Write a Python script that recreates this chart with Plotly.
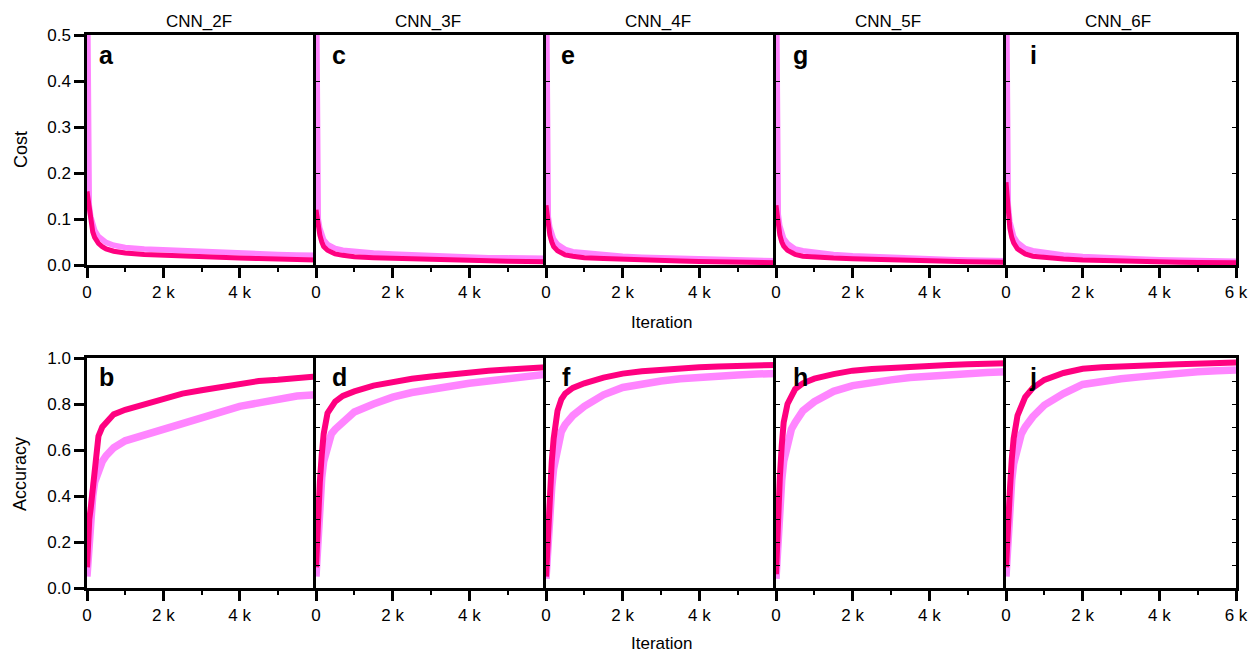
import plotly.graph_objects as go

# ---------------- data ----------------
iterations = [0, 30, 60, 100, 150, 200, 300, 400, 500, 700, 1000, 1500, 2000,
              2500, 3000, 3500, 4000, 4500, 5000, 5500, 6000]

models = ["CNN_2F", "CNN_3F", "CNN_4F", "CNN_5F", "CNN_6F"]
cost_letters = ["a", "c", "e", "g", "i"]
acc_letters = ["b", "d", "f", "h", "j"]

# cost, dark series
cost_dark_2F = [0.16, 0.14, 0.115, 0.09, 0.072, 0.06, 0.047, 0.04, 0.035, 0.030, 0.026, 0.023, 0.021, 0.019, 0.017, 0.016, 0.015, 0.014, 0.013, 0.012, 0.011]
cost_dark_3F = [0.12, 0.10, 0.08, 0.065, 0.05, 0.04, 0.032, 0.027, 0.024, 0.021, 0.018, 0.016, 0.0145, 0.013, 0.012, 0.011, 0.0095, 0.0088, 0.008, 0.0075, 0.007]
cost_dark_4F = [0.13, 0.11, 0.085, 0.065, 0.05, 0.04, 0.031, 0.026, 0.022, 0.019, 0.016, 0.014, 0.012, 0.011, 0.0095, 0.0085, 0.0075, 0.0068, 0.006, 0.0055, 0.005]
cost_dark_5F = [0.13, 0.11, 0.085, 0.065, 0.05, 0.041, 0.032, 0.027, 0.023, 0.019, 0.017, 0.015, 0.0135, 0.012, 0.011, 0.0098, 0.009, 0.008, 0.0072, 0.0066, 0.006]
cost_dark_6F = [0.18, 0.15, 0.11, 0.08, 0.06, 0.048, 0.035, 0.028, 0.024, 0.019, 0.016, 0.013, 0.011, 0.0095, 0.0085, 0.0075, 0.0068, 0.006, 0.0055, 0.0052, 0.005]

# cost, light series
cost_light_2F = [0.75, 0.17, 0.13, 0.105, 0.088, 0.076, 0.062, 0.054, 0.049, 0.043, 0.038, 0.035, 0.033, 0.031, 0.029, 0.027, 0.025, 0.024, 0.023, 0.022, 0.021]
cost_light_3F = [0.75, 0.13, 0.10, 0.08, 0.065, 0.055, 0.045, 0.040, 0.036, 0.032, 0.029, 0.026, 0.024, 0.022, 0.020, 0.019, 0.017, 0.016, 0.0155, 0.015, 0.0145]
cost_light_4F = [0.75, 0.14, 0.105, 0.082, 0.066, 0.056, 0.045, 0.038, 0.034, 0.029, 0.026, 0.022, 0.019, 0.017, 0.0155, 0.014, 0.0125, 0.0115, 0.0105, 0.0095, 0.009]
cost_light_5F = [0.75, 0.15, 0.11, 0.085, 0.068, 0.058, 0.047, 0.040, 0.035, 0.031, 0.027, 0.023, 0.020, 0.018, 0.016, 0.0148, 0.0135, 0.0122, 0.011, 0.010, 0.0095]
cost_light_6F = [0.75, 0.19, 0.13, 0.095, 0.075, 0.062, 0.049, 0.041, 0.036, 0.031, 0.027, 0.022, 0.0185, 0.016, 0.0145, 0.013, 0.0115, 0.0105, 0.0095, 0.0088, 0.008]

# accuracy, dark series
acc_dark_2F = [0.09, 0.22, 0.30, 0.35, 0.42, 0.52, 0.66, 0.70, 0.72, 0.755, 0.775, 0.80, 0.825, 0.845, 0.86, 0.875, 0.89, 0.90, 0.905, 0.915, 0.92]
acc_dark_3F = [0.09, 0.25, 0.37, 0.46, 0.58, 0.67, 0.76, 0.79, 0.81, 0.835, 0.855, 0.88, 0.897, 0.91, 0.92, 0.93, 0.94, 0.945, 0.95, 0.955, 0.96]
acc_dark_4F = [0.05, 0.18, 0.30, 0.40, 0.55, 0.65, 0.77, 0.82, 0.845, 0.87, 0.89, 0.915, 0.932, 0.942, 0.95, 0.955, 0.96, 0.963, 0.966, 0.968, 0.97]
acc_dark_5F = [0.06, 0.22, 0.36, 0.48, 0.62, 0.72, 0.80, 0.84, 0.865, 0.89, 0.91, 0.93, 0.945, 0.952, 0.958, 0.963, 0.967, 0.97, 0.973, 0.975, 0.977]
acc_dark_6F = [0.09, 0.22, 0.33, 0.42, 0.56, 0.65, 0.75, 0.80, 0.83, 0.87, 0.905, 0.935, 0.953, 0.96, 0.965, 0.968, 0.97, 0.973, 0.975, 0.978, 0.98]

# accuracy, light series
acc_light_2F = [0.05, 0.15, 0.25, 0.33, 0.40, 0.46, 0.52, 0.55, 0.575, 0.61, 0.64, 0.665, 0.695, 0.72, 0.745, 0.77, 0.79, 0.805, 0.82, 0.835, 0.84]
acc_light_3F = [0.05, 0.17, 0.28, 0.38, 0.48, 0.55, 0.63, 0.67, 0.69, 0.72, 0.765, 0.80, 0.83, 0.85, 0.865, 0.878, 0.89, 0.90, 0.91, 0.92, 0.93]
acc_light_4F = [0.04, 0.14, 0.25, 0.33, 0.44, 0.52, 0.62, 0.68, 0.71, 0.75, 0.79, 0.84, 0.872, 0.89, 0.90, 0.91, 0.918, 0.922, 0.926, 0.93, 0.933]
acc_light_5F = [0.04, 0.15, 0.26, 0.36, 0.47, 0.55, 0.64, 0.69, 0.72, 0.77, 0.81, 0.855, 0.88, 0.895, 0.905, 0.915, 0.922, 0.928, 0.933, 0.937, 0.94]
acc_light_6F = [0.05, 0.16, 0.28, 0.38, 0.47, 0.54, 0.62, 0.67, 0.70, 0.745, 0.795, 0.845, 0.885, 0.90, 0.91, 0.918, 0.928, 0.935, 0.94, 0.945, 0.948]

cost_dark = [cost_dark_2F, cost_dark_3F, cost_dark_4F, cost_dark_5F, cost_dark_6F]
cost_light = [cost_light_2F, cost_light_3F, cost_light_4F, cost_light_5F, cost_light_6F]
acc_dark = [acc_dark_2F, acc_dark_3F, acc_dark_4F, acc_dark_5F, acc_dark_6F]
acc_light = [acc_light_2F, acc_light_3F, acc_light_4F, acc_light_5F, acc_light_6F]

x_tick_vals = [0, 2000, 4000, 6000]
x_tick_text = ["0", "2 k", "4 k", "6 k"]
x_minor_vals = [1000, 3000, 5000]
cost_ticks = [0.0, 0.1, 0.2, 0.3, 0.4, 0.5]
acc_ticks = [0.0, 0.2, 0.4, 0.6, 0.8, 1.0]
cost_small_ticks = [0.1, 0.2, 0.3, 0.4]
acc_small_ticks = [0.1, 0.2, 0.3, 0.4, 0.5, 0.6, 0.7, 0.8, 0.9]

# ---------------- styling / layout ----------------
W, H = 1250, 652
DARK = "#FF0080"
LIGHT = "#FF85FF"
FONT = "Liberation Sans, Arial, Helvetica, sans-serif"

col_px = [(87, 316), (316, 546), (546, 776), (776, 1006), (1006, 1236)]
row_px = {"top": (35, 265), "bot": (358, 588)}


def px_x(p):
    return p / W


def px_y(p):
    return (H - p) / H


fig = go.Figure()
layout = dict(
    width=W, height=H,
    margin=dict(l=0, r=0, t=0, b=0, autoexpand=False),
    paper_bgcolor="white", plot_bgcolor="white",
    showlegend=False,
    font=dict(family=FONT, size=17, color="black"),
)
annotations = []

idx = 0
for r, row in enumerate(["top", "bot"]):
    y0, y1 = row_px[row]
    for c in range(5):
        idx += 1
        xa = "x" if idx == 1 else f"x{idx}"
        ya = "y" if idx == 1 else f"y{idx}"
        if row == "top":
            series = [(cost_light[c], LIGHT, 5.5), (cost_dark[c], DARK, 5)]
        else:
            series = [(acc_light[c], LIGHT, 7.5), (acc_dark[c], DARK, 6)]
        for vals, col, lw in series:
            fig.add_trace(go.Scatter(x=iterations, y=vals, mode="lines",
                                     line=dict(color=col, width=lw),
                                     xaxis=xa, yaxis=ya, hoverinfo="skip"))
        nt = 4 if c == 4 else 3
        xkey = "xaxis" if idx == 1 else f"xaxis{idx}"
        ykey = "yaxis" if idx == 1 else f"yaxis{idx}"
        layout[xkey] = dict(
            domain=[px_x(col_px[c][0]), px_x(col_px[c][1])],
            anchor=ya, range=[0, 6000],
            showgrid=False, zeroline=False,
            showline=True, linecolor="black", linewidth=2.5, mirror=True,
            ticks="outside", ticklen=10, tickwidth=2.5, tickcolor="black",
            tickmode="array", tickvals=x_tick_vals[:nt], ticktext=x_tick_text[:nt],
            tickfont=dict(family=FONT, size=17),
            minor=dict(tickmode="array", tickvals=x_minor_vals, ticks="outside",
                       ticklen=4, tickwidth=1.5, tickcolor="black"),
        )
        yrange = [0, 0.5] if row == "top" else [0, 1.0]
        last = (c == 4)
        if c == 0:
            ytv = cost_ticks if row == "top" else acc_ticks
            layout[ykey] = dict(
                domain=[px_y(y1), px_y(y0)], anchor=xa, range=yrange,
                showgrid=False, zeroline=False,
                showline=True, linecolor="black", linewidth=2.5, mirror=False,
                ticks="outside", ticklen=10, tickwidth=2.5, tickcolor="black",
                tickmode="array", tickvals=ytv,
                ticktext=[f"{v:.1f}" for v in ytv],
                tickfont=dict(family=FONT, size=17),
            )
        else:
            stv = cost_small_ticks if row == "top" else acc_small_ticks
            layout[ykey] = dict(
                domain=[px_y(y1), px_y(y0)], anchor=xa, range=yrange,
                showgrid=False, zeroline=False,
                showline=True, linecolor="black", linewidth=2.5,
                mirror="allticks" if last else False,
                ticks="inside", ticklen=4, tickwidth=1.2, tickcolor="black",
                tickmode="array", tickvals=stv, showticklabels=False,
            )

# panel letters
top_letter_x = [106, 339, 568, 800, 1033]
bot_letter_x = [106, 339, 566, 800, 1033]
for c in range(5):
    annotations.append(dict(text=f"<b>{cost_letters[c]}</b>", x=px_x(top_letter_x[c]),
                            y=px_y(55), xref="paper", yref="paper", showarrow=False,
                            xanchor="center", yanchor="middle",
                            font=dict(family=FONT, size=25, color="black")))
    annotations.append(dict(text=f"<b>{acc_letters[c]}</b>", x=px_x(bot_letter_x[c]),
                            y=px_y(377), xref="paper", yref="paper", showarrow=False,
                            xanchor="center", yanchor="middle",
                            font=dict(family=FONT, size=25, color="black")))
    cx = (col_px[c][0] + col_px[c][1]) / 2
    annotations.append(dict(text=models[c], x=px_x(cx - 3), y=px_y(21), xref="paper",
                            yref="paper", showarrow=False, xanchor="center",
                            yanchor="middle", font=dict(family=FONT, size=17)))

annotations.append(dict(text="Cost", x=px_x(21), y=px_y(150), xref="paper", yref="paper",
                        showarrow=False, textangle=-90, xanchor="center", yanchor="middle",
                        font=dict(family=FONT, size=18)))
annotations.append(dict(text="Accuracy", x=px_x(20), y=px_y(474), xref="paper", yref="paper",
                        showarrow=False, textangle=-90, xanchor="center", yanchor="middle",
                        font=dict(family=FONT, size=18)))
for yy in (322, 643):
    annotations.append(dict(text="Iteration", x=px_x(661.5), y=px_y(yy), xref="paper",
                            yref="paper", showarrow=False, xanchor="center",
                            yanchor="middle", font=dict(family=FONT, size=17)))

layout["annotations"] = annotations
fig.update_layout(**layout)
fig.write_html("out.html",
               config={"displayModeBar": False},
               post_script="document.body.style.margin='0px';document.body.style.overflow='hidden';")
